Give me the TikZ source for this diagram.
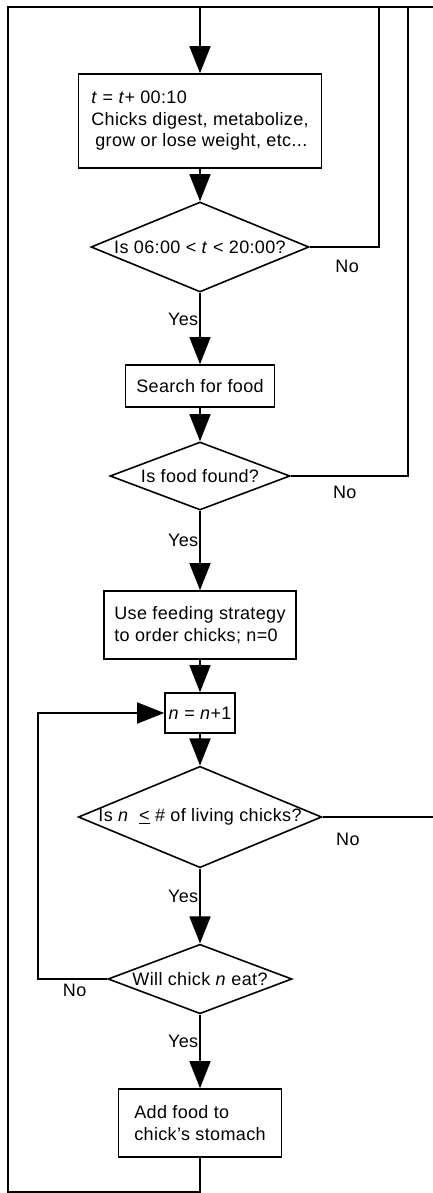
\documentclass[tikz,border=0pt]{standalone}
\usepackage{fontspec}
\setmainfont{Liberation Sans}[LetterSpace=2]
\usepackage{tikz}
\usetikzlibrary{calc}
\usetikzlibrary{shapes.geometric}
\usetikzlibrary{arrows.meta}
\tikzset{
  every node/.style={font=\fontsize{18}{21.5}\selectfont},
  proc/.style={draw, line width=1.6pt, rectangle, align=left, inner sep=2pt},
  decision/.style={draw, line width=1.6pt, diamond, inner sep=0pt, aspect=2.4},
  flow/.style={line width=1.6pt, -{Triangle[length=27pt,width=21pt]}},
  link/.style={line width=1.6pt},
  yes/.style={left, inner sep=1pt, pos=0.37},
  no/.style={inner sep=1pt}
}

\begin{document}
\begin{tikzpicture}[x=1pt, y=-1pt]
        \useasboundingbox (0,0) rectangle (433,1193);
        % boxes
        \node[proc, minimum width=243pt, minimum height=94pt] (step) at (200,121) {\textit{t} = \textit{t}+ 00:10\\Chicks digest, metabolize,\\\hspace{4pt}grow or lose weight, etc...};
        \node[decision, minimum width=218pt, minimum height=90pt] (daytime) at (200,247) {Is 06:00 < \textit{t} < 20:00?};
        \node[proc, minimum width=149pt, minimum height=42pt] (search) at (200,386) {Search for food};
        \node[decision, minimum width=180pt, minimum height=68pt] (found) at (200,476) {Is food found?};
        \node[proc, minimum width=192pt, minimum height=68pt] (strategy) at (200,625) {Use feeding strategy\\to order chicks; n=0};
        \node[proc, minimum width=70pt, minimum height=40pt] (incr) at (200,713) {\textit{n} = \textit{n}+1};
        \node[decision, minimum width=237pt, minimum height=100pt] (count) at (200,817) {Is \textit{n}\ \ \underline{<} \# of living chicks?};
        \node[decision, minimum width=184pt, minimum height=66pt] (eat) at (200,979) {Will chick \textit{n} eat?};
        \node[proc, minimum width=163pt, minimum height=68pt] (feed) at (200,1123) {Add food to\\chick’s stomach};
        % corners
        \coordinate (cornerTL) at (8,7);
        \coordinate (cornerTR) at (433,7);
        \coordinate (cornerBL) at (8,1192);
        \coordinate (ret1) at (379,7);
        \coordinate (ret2) at (408,7);
        \coordinate (edgeR) at (433,817);
        \coordinate (loopBL) at (38,979);
        % arrows
        \draw[flow] (step) -- (daytime);
        \draw[flow] (daytime) -- node[yes] (yes1) {Yes} (search);
        \draw[flow] (search) -- (found);
        \draw[flow] (found) -- node[yes] (yes2) {Yes} (strategy);
        \draw[flow] (strategy) -- (incr);
        \draw[flow] (incr) -- (count);
        \draw[flow] (count) -- node[yes] (yes3) {Yes} (eat);
        \draw[flow] (eat) -- node[yes] (yes4) {Yes} (feed);
        % no branches
        \draw[link] (daytime.east) -| node[no, pos=0.27, below=11pt] (no1) {No} (ret1);
        \draw[link] (found.east) -| node[no, pos=0.23, below=8pt] (no2) {No} (ret2);
        \draw[link] (count.east) -- node[no, pos=0.23, below=14pt] (no3) {No} (edgeR);
        \draw[flow] (eat.west) -- node[no, pos=0.47, below=3.5pt] (no4) {No} (loopBL) |- (incr.west);
        % outer loop
        \draw[link] (cornerTL) -- (cornerTR);
        \draw[flow] (feed.south) |- (cornerBL) -- (cornerTL) -| (step.north);
\end{tikzpicture}
\end{document}
